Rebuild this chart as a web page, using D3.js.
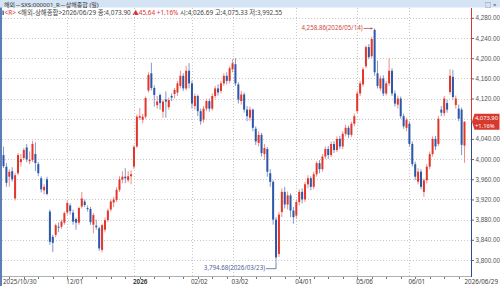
<!DOCTYPE html>
<html>
<head>
<meta charset="utf-8">
<script src="https://cdn.jsdelivr.net/npm/d3@7"></script>
<style>
body { margin: 0; background: #fff; }
svg { display: block; font-family: "Noto Sans", "Noto Sans CJK KR", sans-serif; }
</style>
</head>
<body>
<svg id="chart" width="500" height="286"></svg>
<script>
// daily candles, 2025/10/30 .. 2026/06/29 (160 trading days)
var opens = [4008,3985,3965,3976,3922,3972,3994,4002,4023,3996,3998,4010,3990,3962,3938,3960,3896,3846,3850,3866,
  3866,3874,3894,3908,3894,3881,3874,3906,3916,3903,3901,3870,3868,3863,3820,3860,3879,3900,3914,3919,
  3939,3959,3965,3958,3966,3985,4025,4082,4078,4084,4136,4170,4141,4107,4127,4094,4118,4103,4125,4129,
  4132,4145,4165,4140,4175,4150,4105,4125,4095,4078,4100,4115,4100,4125,4140,4135,4150,4165,4155,4178,
  4188,4148,4115,4128,4098,4082,4098,4060,4032,4048,4010,4020,3972,3955,3880,3812,3895,3935,3910,3928,
  3898,3888,3915,3935,3920,3950,3962,3945,3970,3992,3980,4005,4020,4008,4030,4018,4040,4025,4050,4062,
  4048,4070,4095,4130,4148,4184,4222,4204,4256,4170,4140,4160,4130,4150,4175,4130,4108,4120,4085,4062,
  4070,4030,3990,3955,3975,3935,3958,3985,4010,4040,4030,4098,4091,4111,4133,4163,4107,4100,4098,4026.69];
var highs = [4025,3992,3980,3984,3972,4012,4010,4022,4030,4015,4036,4033,3994,3966,3950,3965,3900,3850,3872,3874,
  3880,3896,3918,3912,3900,3884,3906,3935,3920,3908,3905,3893,3880,3866,3872,3884,3902,3920,3925,3944,
  3966,3976,3982,3976,3978,4028,4088,4101,4090,4124,4172,4191,4146,4125,4130,4118,4134,4122,4130,4141,
  4155,4175,4170,4185,4190,4155,4130,4128,4100,4105,4120,4120,4130,4145,4148,4155,4170,4172,4184,4198,
  4200,4152,4135,4132,4105,4104,4100,4065,4055,4052,4030,4024,3980,3958,3885,3895,3942,3945,3936,3932,
  3905,3920,3940,3942,3955,3968,3966,3975,3996,3998,4010,4025,4026,4035,4036,4045,4046,4055,4068,4066,
  4074,4090,4135,4155,4182,4225,4228,4242,4258.86,4195,4165,4166,4155,4200,4180,4136,4126,4124,4090,4082,
  4075,4035,3995,3982,3980,3962,3990,4015,4045,4046,4085,4105,4125,4118,4178,4177,4126,4108,4102,4075.33];
var lows = [3982,3945,3945,3955,3918,3968,3985,3998,3994,3990,3994,3976,3966,3934,3930,3928,3830,3816,3845,3855,
  3862,3870,3890,3890,3870,3860,3870,3902,3905,3896,3870,3853,3860,3818,3815,3855,3875,3896,3905,3915,
  3935,3952,3952,3954,3950,3980,4022,4078,4071,4080,4132,4136,4104,4100,4098,4082,4082,4098,4115,4120,
  4125,4140,4135,4136,4140,4100,4098,4085,4068,4072,4095,4094,4096,4120,4126,4130,4145,4148,4150,4172,
  4145,4110,4108,4092,4075,4076,4055,4028,4025,4005,3998,3965,3945,3870,3794.68,3806,3885,3902,3900,3885,
  3872,3882,3908,3912,3915,3942,3938,3940,3965,3972,3975,4000,4000,4004,4012,4014,4020,4020,4045,4042,
  4044,4065,4090,4125,4144,4180,4198,4200,4165,4140,4135,4125,4126,4145,4125,4104,4100,4080,4060,4055,
  4025,3985,3958,3950,3940,3925,3952,3980,4005,4018,4026,4085,4085,4092,4128,4118,4100,4075,4008,3992.55];
var closes = [3986,3953,3975,3960,3968,4008,4000,4018,3999,3999,4030,3992,3972,3940,3945,3931,3836,3834,3869,3864,
  3876,3893,3913,3897,3876,3874,3903,3922,3909,3901,3875,3889,3865,3823,3869,3879,3898,3916,3920,3939,
  3960,3965,3962,3966,3970,4024,4084,4085,4084,4121,4167,4141,4127,4114,4111,4114,4114,4117,4122,4137,
  4150,4165,4140,4175,4150,4110,4125,4095,4075,4100,4115,4100,4125,4140,4132,4150,4165,4155,4180,4190,
  4150,4118,4128,4098,4085,4098,4062,4035,4048,4012,4022,3975,3955,3880,3805,3890,3935,3910,3928,3898,
  3885,3915,3935,3920,3950,3962,3945,3970,3992,3980,4005,4020,4008,4030,4018,4040,4025,4050,4062,4048,
  4070,4085,4130,4150,4178,4222,4202,4238,4172,4145,4160,4130,4150,4175,4130,4110,4120,4085,4065,4078,
  4030,3990,3965,3975,3945,3958,3985,4010,4040,4025,4080,4092,4120,4098,4165,4123,4120,4080,4028.26,4073.90];

var tickIdx = [0, 22, 45, 65, 79, 101, 122, 140, 159];
var tickLabels = ["2025/10/30", "12/01", "2026", "02/02", "03/02", "04/01", "05/06", "06/01", "2026/06/29"];
var priceTicks = [3800, 3840, 3880, 3920, 3960, 4000, 4040, 4080, 4120, 4160, 4200, 4240, 4280];

var svg = d3.select('#chart');
var W = 500, H = 286;
var plotL = 2, plotR = 471, plotT = 8, plotB = 276;

var x = d3.scaleLinear().domain([0, closes.length - 1]).range([3.5, 464.5]);
var y = d3.scaleLinear().domain([3800, 4280]).range([260, 17.8]);

// header
svg.append('rect').attr('x', 0).attr('y', 0).attr('width', W).attr('height', 7.5).attr('fill', '#d4e4f4');
svg.append('text').attr('x', 4).attr('y', 6.5).attr('font-size', 6).attr('fill', '#333')
  .text('해외－SXS:000001_R－상해종합 (일)');
svg.append('text').attr('x', 485).attr('y', 6.5).attr('font-size', 6).attr('fill', '#445').text('□');
svg.append('text').attr('x', 493).attr('y', 6.5).attr('font-size', 6).attr('fill', '#445').text('×');

// left frame
svg.append('rect').attr('x', 0).attr('y', 7.5).attr('width', 2).attr('height', H - 7.5).attr('fill', '#5d7fb6');

var info = svg.append('text').attr('x', 4.5).attr('y', 15.3).attr('font-size', 6.4).attr('fill', '#444');
svg.append('rect').attr('x', 2.5).attr('y', 10.5).attr('width', 1.2).attr('height', 4.5).attr('fill', '#1f3f7a');
info.append('tspan').attr('fill', '#d33').text('<R>');
info.append('tspan').text(' <해외-상해종합>2026/06/29 종:4,073.90 ');
info.append('tspan').attr('fill', '#d33').text('▲45.64  +1.16%');
info.append('tspan').text('  시:4,026.69 고:4,075.33 저:3,992.55');

// grid
var grid = svg.append('g');
grid.selectAll('line.h').data(priceTicks).enter().append('line')
  .attr('x1', plotL).attr('x2', plotR)
  .attr('y1', function(d) { return Math.round(y(d)) + 0.5; })
  .attr('y2', function(d) { return Math.round(y(d)) + 0.5; })
  .attr('stroke', '#c8c8c8').attr('stroke-dasharray', '1,2');
grid.selectAll('line.v').data(tickIdx.slice(1, -1)).enter().append('line')
  .attr('x1', function(d) { return Math.round(x(d)) + 0.5; })
  .attr('x2', function(d) { return Math.round(x(d)) + 0.5; })
  .attr('y1', plotT).attr('y2', plotB)
  .attr('stroke', '#c8c8c8').attr('stroke-dasharray', '1,2');

// candles
var idx = d3.range(closes.length);
var upC = '#e3362b', dnC = '#2d58a9', upW = '#ee8f86', dnW = '#8199c8';
var candles = svg.append('g');
candles.selectAll('line').data(idx).enter().append('line')
  .attr('x1', function(i) { return x(i); })
  .attr('x2', function(i) { return x(i); })
  .attr('y1', function(i) { return y(highs[i]); })
  .attr('y2', function(i) { return y(lows[i]); })
  .attr('stroke', function(i) { return closes[i] >= opens[i] ? upW : dnW; })
  .attr('stroke-width', 1);
candles.selectAll('rect').data(idx).enter().append('rect')
  .attr('x', function(i) { return x(i) - 1; })
  .attr('width', 2)
  .attr('y', function(i) { return y(Math.max(opens[i], closes[i])); })
  .attr('height', function(i) { return Math.max(1, Math.abs(y(opens[i]) - y(closes[i]))); })
  .attr('fill', function(i) { return closes[i] >= opens[i] ? upC : dnC; });

// high / low notes
var hiI = d3.maxIndex(highs), loI = d3.minIndex(lows);
var hy = y(highs[hiI]);
svg.append('line').attr('x1', x(hiI) - 11).attr('x2', x(hiI) - 2).attr('y1', hy).attr('y2', hy)
  .attr('stroke', '#d04a3c').attr('stroke-width', 0.8);
svg.append('path').attr('d', 'M' + (x(hiI) - 2) + ',' + hy + 'l-2,-1.3v2.6z').attr('fill', '#d04a3c');
svg.append('text').attr('x', x(hiI) - 12).attr('y', hy + 2).attr('text-anchor', 'end')
  .attr('font-size', 6.2).attr('fill', '#d04a3c').text('4,258.86(2026/05/14)');

var ly = y(lows[loI]);
svg.append('path').attr('d', 'M' + (x(loI) - 10) + ',' + (ly + 6) + 'H' + x(loI) + 'V' + ly)
  .attr('fill', 'none').attr('stroke', '#4d6796').attr('stroke-width', 0.8);
svg.append('text').attr('x', x(loI) - 11).attr('y', ly + 7.5).attr('text-anchor', 'end')
  .attr('font-size', 6.2).attr('fill', '#4d6796').text('3,794.68(2026/03/23)');

// right axis
var last = closes[closes.length - 1];
var ly2 = y(last);
svg.append('line').attr('x1', plotR + 0.5).attr('x2', plotR + 0.5).attr('y1', plotT).attr('y2', ly2)
  .attr('stroke', '#d8392d').attr('stroke-width', 1);
svg.append('line').attr('x1', plotR + 0.5).attr('x2', plotR + 0.5).attr('y1', ly2).attr('y2', plotB + 1)
  .attr('stroke', '#2b4f8c').attr('stroke-width', 1);

// price labels hidden under the current price tag are left out
var shownTicks = priceTicks.filter(function(d) { return Math.abs(y(d) - ly2) > 9; });
var yAxis = svg.append('g').attr('transform', 'translate(' + (plotR + 0.5) + ',0)')
  .call(d3.axisRight(y).tickValues(shownTicks).tickSize(2.5).tickPadding(1.5).tickFormat(d3.format(',.2f')));
yAxis.select('.domain').remove();
yAxis.selectAll('line').attr('stroke', '#666');
yAxis.selectAll('text').attr('font-size', 6.3).attr('fill', '#555');

// current price tag
var tag = svg.append('g');
tag.append('path')
  .attr('d', 'M' + (plotR + 1) + ',' + ly2 + 'l2.5,-8h25v16h-25z')
  .attr('fill', '#d8392d');
tag.append('text').attr('x', plotR + 4).attr('y', ly2 - 1.6).attr('font-size', 5.8).attr('fill', '#fff')
  .text(d3.format(',.2f')(last));
tag.append('text').attr('x', plotR + 4).attr('y', ly2 + 6.4).attr('font-size', 5.8).attr('fill', '#fff')
  .text('+1.16%');

// bottom axis
svg.append('line').attr('x1', plotL).attr('x2', plotR).attr('y1', plotB + 0.5).attr('y2', plotB + 0.5)
  .attr('stroke', '#b0b0b0');
var minor = idx.filter(function(i) { return i % 5 === 2; });
svg.append('g').selectAll('line').data(minor).enter().append('line')
  .attr('x1', function(i) { return Math.round(x(i)) + 0.5; })
  .attr('x2', function(i) { return Math.round(x(i)) + 0.5; })
  .attr('y1', plotB + 1).attr('y2', plotB + 3)
  .attr('stroke', '#777');

svg.append('g').selectAll('text').data(tickIdx).enter().append('text')
  .attr('x', function(d, k) { return k === tickIdx.length - 1 ? 498 : Math.max(3, x(d) - 1); })
  .attr('y', 284)
  .attr('text-anchor', function(d, k) { return k === tickIdx.length - 1 ? 'end' : 'start'; })
  .attr('font-size', 6.3)
  .attr('font-weight', function(d, k) { return tickLabels[k] === '2026' ? 'bold' : 'normal'; })
  .attr('fill', '#444')
  .text(function(d, k) { return tickLabels[k]; });
</script>
</body>
</html>
